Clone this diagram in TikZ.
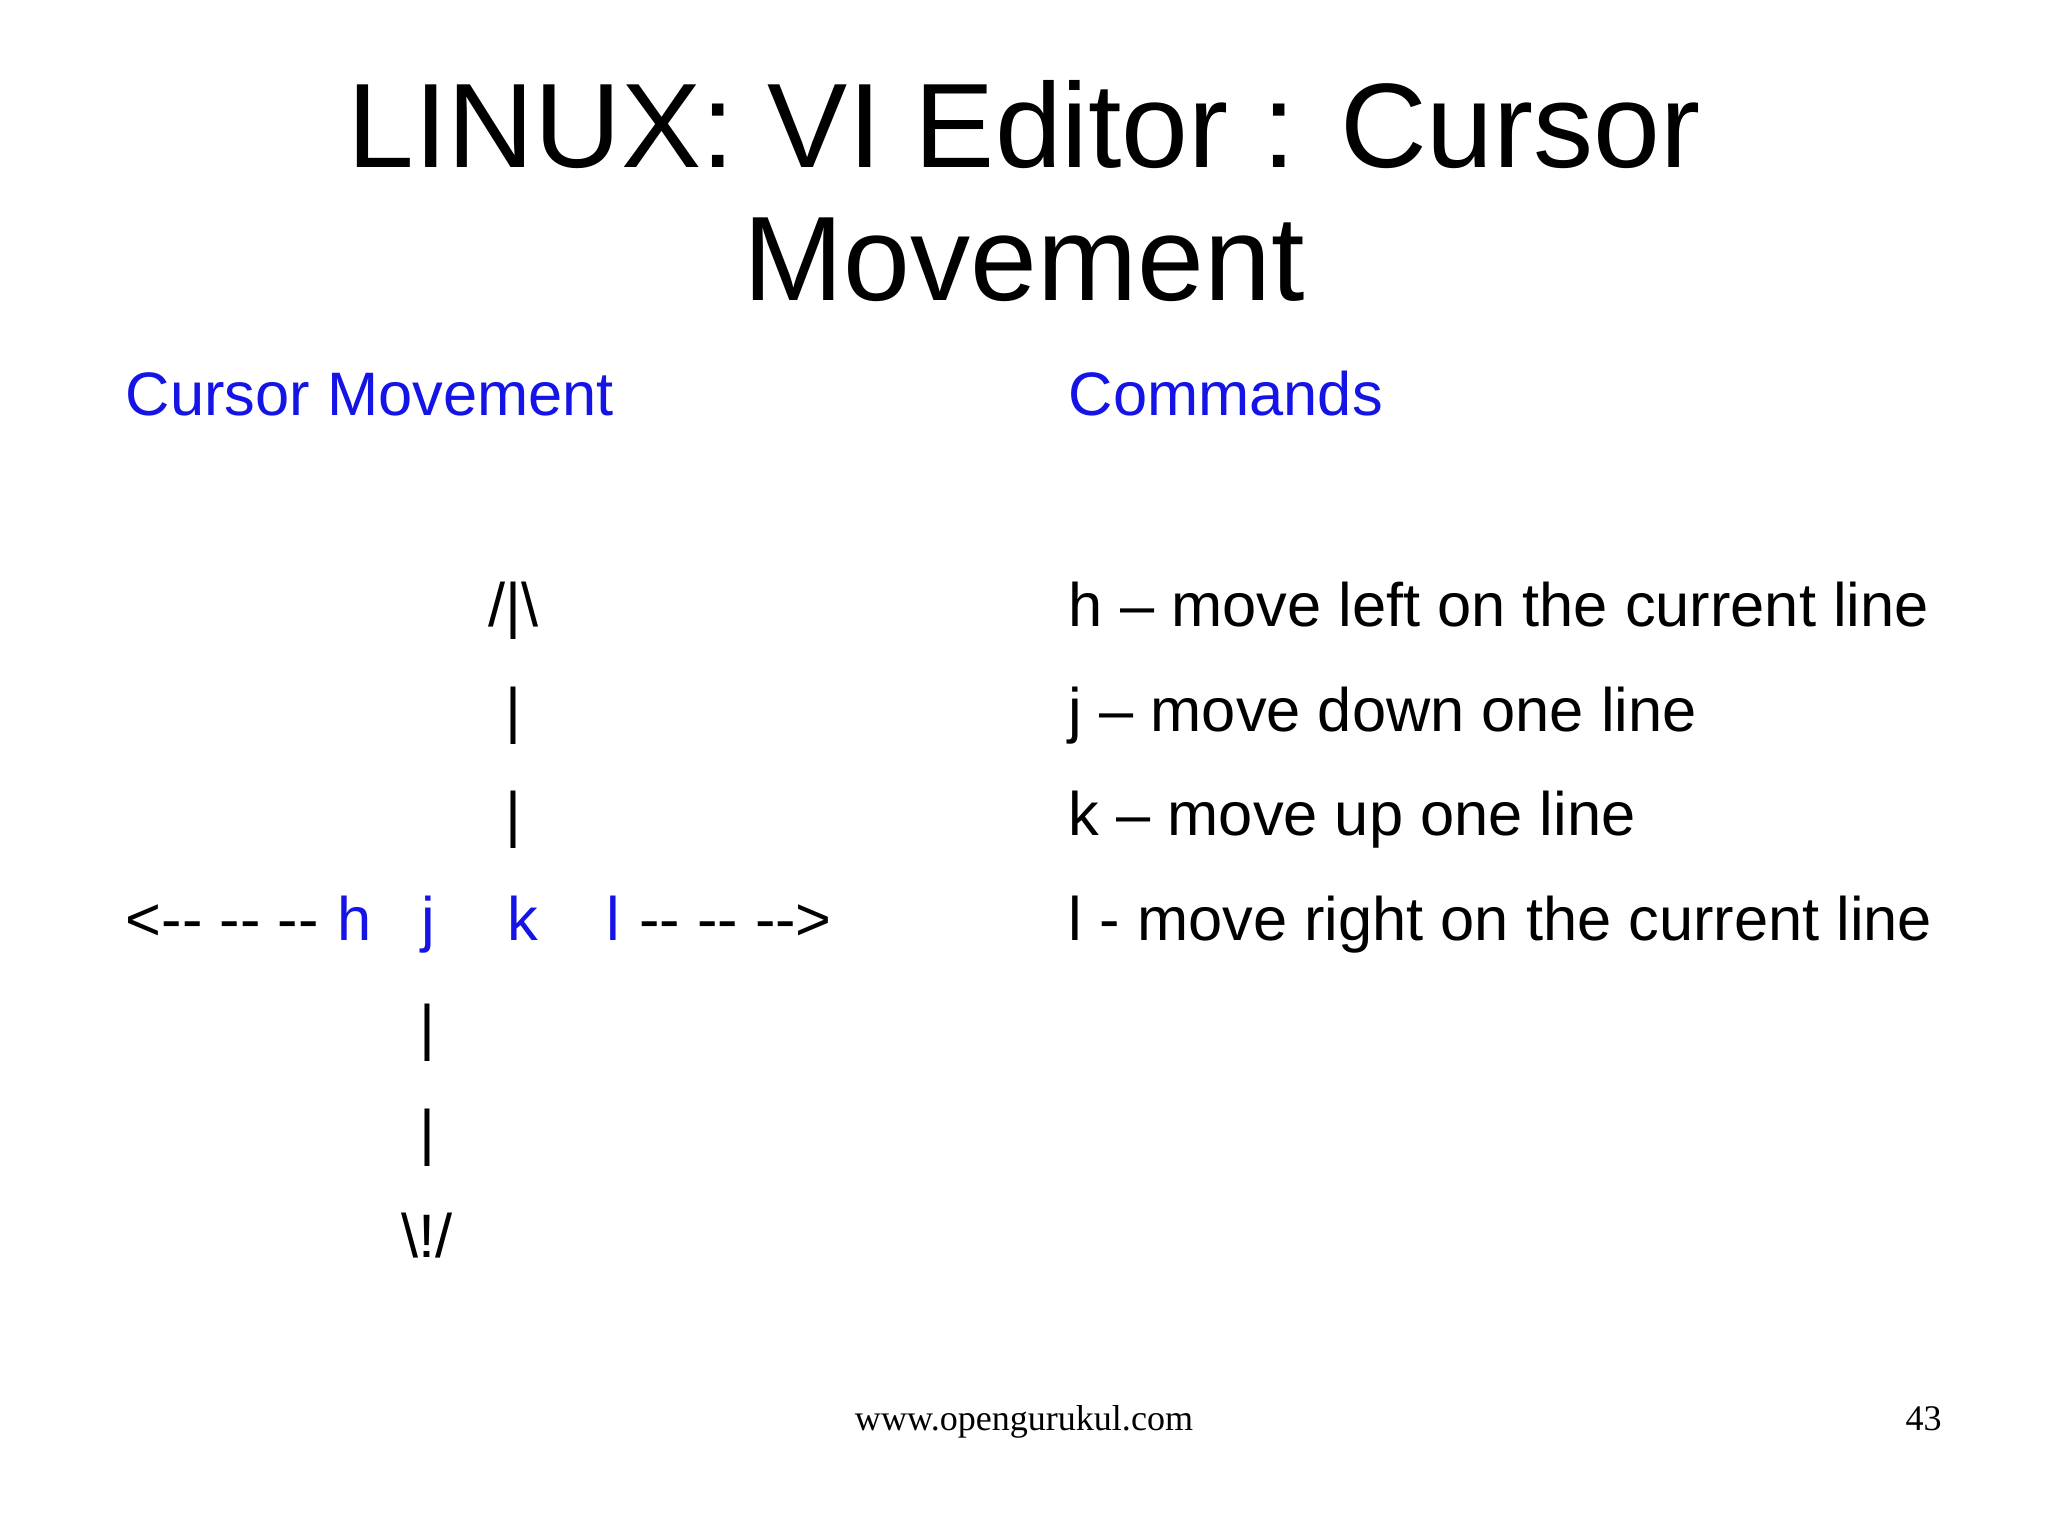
\documentclass[tikz,border=0pt]{standalone}
\usepackage{fontspec}
\setmainfont{Liberation Sans}
\newfontfamily\seriffont{Liberation Serif}
\definecolor{hblue}{RGB}{20,20,230}
\newcommand\dsh{-{}-}
\begin{document}
\begin{tikzpicture}[x=0.5pt,y=-0.5pt,
  body/.style={inner sep=0pt,anchor=base west,font=\fontsize{23.5}{28}\selectfont},
  bodyc/.style={inner sep=0pt,anchor=base,font=\fontsize{23.5}{28}\selectfont},
  blu/.style={text=hblue},
  ttl/.style={inner sep=0pt,anchor=base,font=\fontsize{46}{50}\selectfont}]
\fill[white] (0,0) rectangle (1568,1175);
\useasboundingbox (0,0) rectangle (1568,1175);
\node[ttl] (t1) at (784,128) {LINUX: VI Editor : Cursor};
\node[ttl] (t2) at (784,230) {Movement};
\node[body,blu] (h1) at (96,318) {Cursor Movement};
\node[body,blu] (h2) at (818,318) {Commands};
\node[body] (c1) at (818,480) {h – move left on the current line};
\node[body] (c2) at (818,560) {j – move down one line};
\node[body] (c3) at (818,640) {k – move up one line};
\node[body] (c4) at (818,720) {l - move right on the current line};
\node[bodyc] (up) at (393,480) {/|\textbackslash};
\node[bodyc] (u1) at (393,560) {|};
\node[bodyc] (u2) at (393,640) {|};
\node[body] (la) at (96,720) {<\dsh{} \dsh{} \dsh};
\node[body,blu] (kh) at (258,720) {h};
\node[body,blu] (kj) at (322,720) {j};
\node[body,blu] (kk) at (388,720) {k};
\node[body,blu] (kl) at (464,720) {l};
\node[body] (ra) at (489,720) {\dsh{} \dsh{} \dsh>};
\node[bodyc] (d1) at (327,803) {|};
\node[bodyc] (d2) at (327,883) {|};
\node[bodyc] (dn) at (327,963) {\textbackslash!/};
\node[inner sep=0pt,anchor=base,font=\seriffont\fontsize{13.8}{16}\selectfont] (ft) at (784,1095) {www.opengurukul.com};
\node[inner sep=0pt,anchor=base east,font=\seriffont\fontsize{13.8}{16}\selectfont] (pg) at (1487,1095) {43};
\end{tikzpicture}
\end{document}
